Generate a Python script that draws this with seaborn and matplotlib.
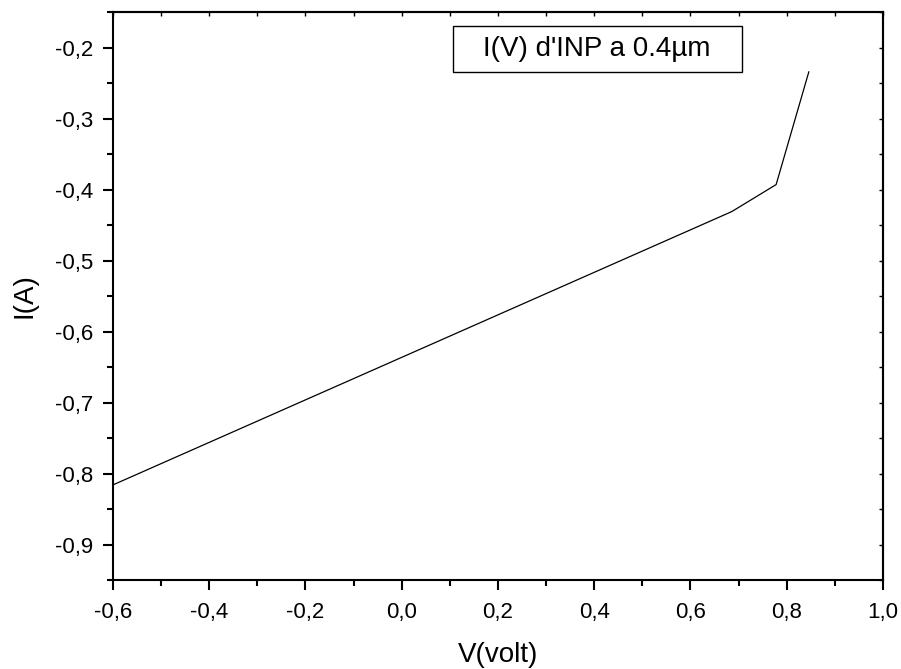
import matplotlib
matplotlib.use("Agg")
import matplotlib.pyplot as plt
from matplotlib.ticker import MultipleLocator, FuncFormatter
from matplotlib.patches import Rectangle
import pandas as pd
import seaborn as sns

# I-V characteristic of InP at 0.4 µm
voltage = [-0.6, 0.686, 0.778, 0.846]
current = [-0.816, -0.431, -0.393, -0.234]
x_ticks = [-0.6, -0.4, -0.2, 0.0, 0.2, 0.4, 0.6, 0.8, 1.0]
y_ticks = [-0.9, -0.8, -0.7, -0.6, -0.5, -0.4, -0.3, -0.2]
title_text = "I(V) d'INP a 0.4µm"

sns.set_theme(style="ticks")
plt.rcParams["font.family"] = ["Liberation Sans", "DejaVu Sans"]

df = pd.DataFrame({"V": voltage, "I": current})

fig = plt.figure(figsize=(9.01, 6.69), dpi=100)
ax = fig.add_axes([0.1254, 0.133, 0.8546, 0.849])

sns.lineplot(data=df, x="V", y="I", sort=False, estimator=None,
             color="black", linewidth=0.9, ax=ax)

ax.set_xlim(-0.6, 1.0)
ax.set_ylim(-0.95, -0.15)


def comma_fmt(v, pos=None):
    s = f"{v:.1f}"
    if s == "-0.0":
        s = "0.0"
    return s.replace(".", ",")


ax.set_xticks(x_ticks)
ax.set_yticks(y_ticks)
ax.xaxis.set_minor_locator(MultipleLocator(0.1))
ax.yaxis.set_minor_locator(MultipleLocator(0.05))
ax.xaxis.set_major_formatter(FuncFormatter(comma_fmt))
ax.yaxis.set_major_formatter(FuncFormatter(comma_fmt))

for sp in ax.spines.values():
    sp.set_visible(True)
    sp.set_linewidth(1.5)
    sp.set_color("black")

ax.tick_params(axis="both", which="major", direction="out", length=7.5,
               width=1.5, colors="black", labelsize=16, labelcolor="black")
ax.tick_params(axis="both", which="minor", direction="out", length=4.5,
               width=1.5, colors="black")
ax.tick_params(axis="x", which="major", pad=8)
ax.tick_params(axis="y", which="major", pad=7)

# short inward ticks on the top and right frame
top = ax.secondary_xaxis("top")
top.set_xticks(x_ticks)
top.xaxis.set_minor_locator(MultipleLocator(0.1))
top.tick_params(which="both", direction="in", length=3, width=1.0,
                labeltop=False, colors="black")
right = ax.secondary_yaxis("right")
right.set_yticks(y_ticks)
right.yaxis.set_minor_locator(MultipleLocator(0.05))
right.tick_params(which="both", direction="in", length=3, width=1.0,
                  labelright=False, colors="black")
for s in (top, right):
    for sp in s.spines.values():
        sp.set_linewidth(1.5)

ax.set_xlabel("V(volt)", fontsize=20, color="black", labelpad=14)
ax.set_ylabel("I(A)", fontsize=20, color="black", labelpad=12)

# title box inside the plot
ax.add_patch(Rectangle((0.4412, 0.8949), 0.3753, 0.081, transform=ax.transAxes,
                       fill=False, edgecolor="black", linewidth=1.0, zorder=5))
ax.text(0.6289, 0.9354, title_text, transform=ax.transAxes, fontsize=20,
        ha="center", va="center", color="black", zorder=6)

fig.savefig("out.png", dpi=100)
